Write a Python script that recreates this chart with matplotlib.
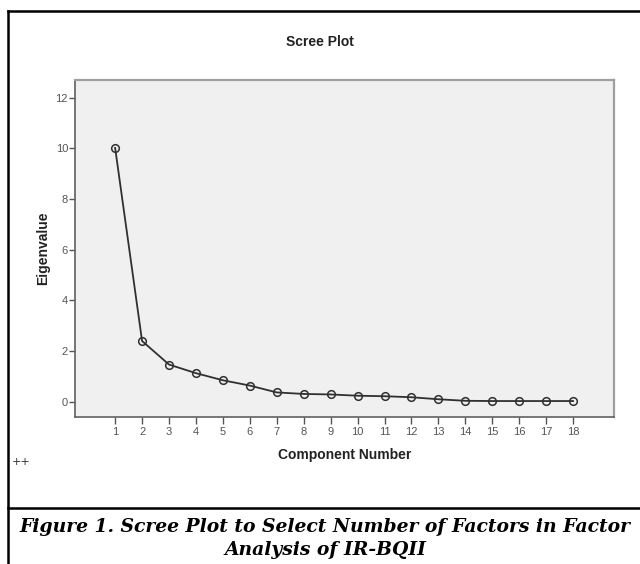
import matplotlib.pyplot as plt
from matplotlib.lines import Line2D

# scree plot values
components = list(range(1, 19))
eigenvalues = [10.02, 2.40, 1.47, 1.13, 0.85, 0.64, 0.37, 0.31, 0.29,
               0.24, 0.22, 0.18, 0.10, 0.04, 0.03, 0.03, 0.03, 0.03]
y_ticks = [0, 2, 4, 6, 8, 10, 12]

plt.rcParams['font.family'] = ['Liberation Sans', 'DejaVu Sans']

fig = plt.figure(figsize=(6.4, 5.64), dpi=100)
ax = fig.add_axes([75/640, 1-417/564, (614-75)/640, (417-80)/564])
ax.set_facecolor('#f0f0f0')

ax.plot(components, eigenvalues, color='#303030', linewidth=1.3,
        marker='o', markersize=5.5, markerfacecolor='none',
        markeredgecolor='#303030', markeredgewidth=1.1)

ax.set_xlim(-0.49, 19.52)
ax.set_ylim(-0.6, 12.7)
ax.set_xticks(components)
ax.set_yticks(y_ticks)
ax.tick_params(axis='both', direction='out', length=4, width=1,
               color='#555555', labelcolor='#555555', labelsize=8, pad=1)
ax.tick_params(axis='x', length=5, pad=2)

for side in ['left', 'bottom']:
    ax.spines[side].set_color('#606060')
    ax.spines[side].set_linewidth(1.2)
for side in ['top', 'right']:
    ax.spines[side].set_color('#a0a0a0')
    ax.spines[side].set_linewidth(1.6)

ax.set_ylabel('Eigenvalue', fontsize=10, fontweight='bold', color='#222222', labelpad=4)
ax.set_xlabel('Component Number', fontsize=10, fontweight='bold', color='#222222', labelpad=8)

fig.text(0.5, 1-42/564, 'Scree Plot', ha='center', va='center',
         fontsize=10, fontweight='bold', color='#222222')
fig.text(12/640, 1-462/564, '++', ha='left', va='center',
         fontsize=8, color='#333333', family='DejaVu Serif')

# border lines around the figure box
fig.add_artist(Line2D([8/640, 8/640], [0, 1-11/564], color='black', linewidth=1.8,
                      transform=fig.transFigure))
fig.add_artist(Line2D([8/640, 1], [1-11/564, 1-11/564], color='black', linewidth=1.8,
                      transform=fig.transFigure))
fig.add_artist(Line2D([8/640, 1], [1-508/564, 1-508/564], color='black', linewidth=1.8,
                      transform=fig.transFigure))

fig.text(325/640, 1-527/564, 'Figure 1. Scree Plot to Select Number of Factors in Factor',
         ha='center', va='center', fontsize=13.5, fontweight='bold', style='italic',
         family='DejaVu Serif', color='black')
fig.text(325/640, 1-550/564, 'Analysis of IR-BQII',
         ha='center', va='center', fontsize=13.5, fontweight='bold', style='italic',
         family='DejaVu Serif', color='black')

fig.savefig('out.png', dpi=100, facecolor='white')
